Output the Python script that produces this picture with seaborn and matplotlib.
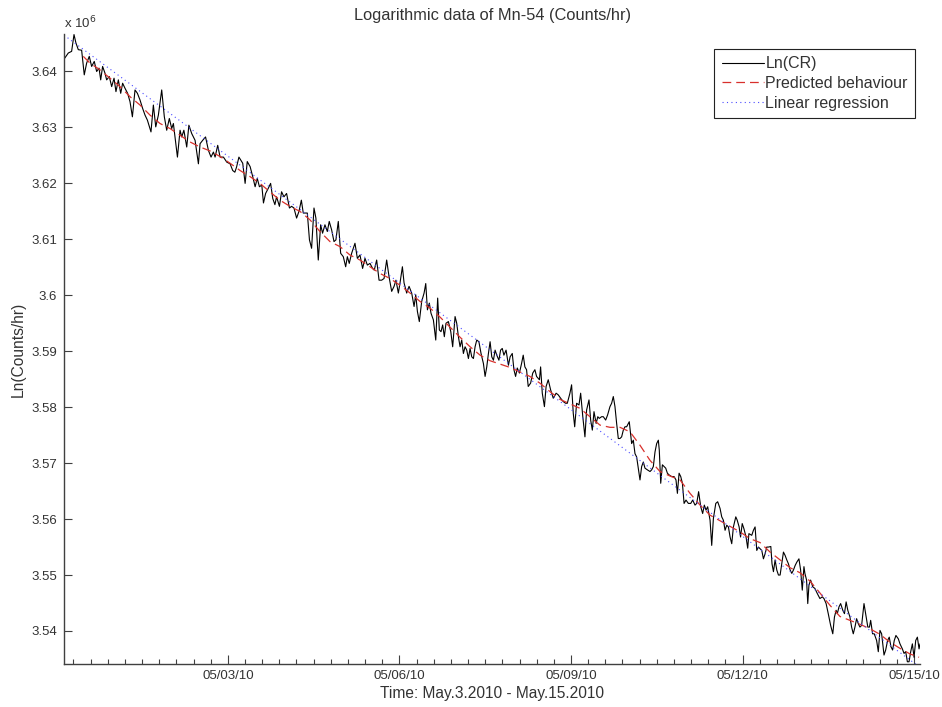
import numpy as np
import pandas as pd
import matplotlib
matplotlib.use("Agg")
import matplotlib.pyplot as plt
import matplotlib.dates as mdates
from matplotlib.ticker import FixedLocator, FuncFormatter
import seaborn as sns
from datetime import datetime, timedelta

# ---------------- data (values in units of 10^6 counts/hr, time in hours from start) -------------
START = datetime(2010, 4, 30, 3, 15)

cr_hours_1 = [0, 1.8, 3.2, 4.2, 5.0, 6.0, 7.4, 8.5, 9.5, 10.6, 11.6, 12.7, 13.7, 14.7, 15.4, 16.2, 17.2, 17.9,
              19.0, 20.0, 21.0, 21.8, 22.8, 23.8, 24.6, 25.6, 26.7, 27.7, 28.7, 29.8, 30.8, 31.9, 33.0, 34.0,
              35.0, 36.5, 37.5, 38.5, 39.6, 41.0, 42.1, 43.1, 44.2, 45.2, 45.9, 47.6, 48.7, 49.4, 50.3, 51.5,
              52.4, 53.6, 55.0, 56.4, 57.1, 58.2, 59.4, 60.6, 61.7, 62.7, 63.4, 64.5, 65.5, 66.9, 68.3, 69.7,
              70.8, 71.7, 72.4, 73.4]
cr_vals_1 = [3.6422, 3.6433, 3.6436, 3.6466, 3.6451, 3.6439, 3.6438, 3.6394, 3.6415, 3.6427, 3.6409, 3.6418,
             3.6400, 3.6406, 3.6385, 3.6409, 3.6397, 3.6385, 3.6391, 3.6373, 3.6388, 3.6364, 3.6385, 3.6361,
             3.6379, 3.6370, 3.6361, 3.6346, 3.6319, 3.6367, 3.6361, 3.6349, 3.6334, 3.6322, 3.6313, 3.6292,
             3.6340, 3.6301, 3.6322, 3.6367, 3.6319, 3.6295, 3.6316, 3.6298, 3.6307, 3.6247, 3.6295, 3.6283,
             3.6295, 3.6265, 3.6304, 3.6289, 3.6277, 3.6235, 3.6271, 3.6277, 3.6283, 3.6259, 3.6247, 3.6256,
             3.6247, 3.6268, 3.6247, 3.6247, 3.6238, 3.6235, 3.6223, 3.6220, 3.6229, 3.6247]

cr_hours_2 = [75.0, 76.0, 76.9, 78.1, 79.2, 80.2, 81.1, 82.0, 83.0, 83.7, 84.6, 85.7, 86.7, 87.6, 88.5, 89.2,
              90.4, 91.3, 92.3, 93.4, 94.6, 95.5, 96.5, 97.6, 98.6, 99.6, 100.4, 102.1, 103.0, 103.9, 104.9,
              105.7, 106.7, 107.7, 108.5, 109.5, 110.5, 111.3, 112.3, 113.3, 114.1, 115.1, 116.1, 117.2, 118.2,
              118.9, 119.7, 120.7, 122.1, 123.1, 124.2, 125.3, 126.3, 127.3, 128.4, 129.5, 130.2, 131.2, 132.2,
              133.3, 134.3, 135.4, 136.4, 137.5, 138.5, 139.3, 140.3, 141.0, 142.0, 142.7, 143.8, 144.8]
cr_vals_2 = [3.6236, 3.6200, 3.6239, 3.6230, 3.6212, 3.6194, 3.6209, 3.6194, 3.6197, 3.6165, 3.6182, 3.6191,
             3.6200, 3.6173, 3.6162, 3.6176, 3.6159, 3.6185, 3.6176, 3.6182, 3.6156, 3.6159, 3.6156, 3.6138,
             3.6150, 3.6170, 3.6147, 3.6147, 3.6099, 3.6084, 3.6156, 3.6138, 3.6063, 3.6126, 3.6111, 3.6126,
             3.6114, 3.6132, 3.6117, 3.6096, 3.6099, 3.6132, 3.6075, 3.6069, 3.6051, 3.6069, 3.6057, 3.6075,
             3.6093, 3.6066, 3.6072, 3.6048, 3.6066, 3.6054, 3.6057, 3.6048, 3.6045, 3.6063, 3.6027, 3.6027,
             3.6030, 3.6063, 3.6033, 3.6007, 3.6016, 3.6027, 3.6004, 3.6022, 3.6051, 3.6022, 3.6004, 3.6016]

cr_hours_3 = [145.9, 146.9, 147.6, 148.3, 149.1, 150.1, 151.1, 151.8, 152.5, 153.3, 154.0, 155.0, 156.0, 156.8,
              157.5, 158.2, 158.9, 159.6, 160.3, 161.3, 162.3, 163.1, 164.1, 164.8, 165.5, 166.2, 166.9, 167.6,
              168.3, 169.0, 169.7, 170.4, 171.1, 171.8, 172.5, 173.2, 174.1, 175.0, 176.0, 176.7, 177.4, 178.1,
              178.8, 179.5, 180.2, 180.9, 181.6, 182.5, 183.2, 183.9, 184.6, 185.5, 186.5, 187.2, 188.1, 188.8,
              189.5, 190.2, 191.1, 192.0, 192.7, 193.4, 194.1, 194.8, 195.8, 196.7, 197.6, 198.3, 199.5, 200.0,
              200.7, 201.6, 202.3, 203.2, 204.2, 205.3, 206.5, 207.4, 208.4, 209.5, 210.5, 211.2, 212.3, 213.0,
              213.7, 214.3, 215.1, 216.1]
cr_vals_3 = [3.6004, 3.5980, 3.6001, 3.5971, 3.5953, 3.5989, 3.6004, 3.6021, 3.5974, 3.5986, 3.5968, 3.5956,
             3.5920, 3.5995, 3.5938, 3.5935, 3.5947, 3.5926, 3.5950, 3.5953, 3.5935, 3.5908, 3.5962, 3.5950,
             3.5926, 3.5908, 3.5920, 3.5896, 3.5908, 3.5902, 3.5887, 3.5905, 3.5890, 3.5887, 3.5908, 3.5920,
             3.5917, 3.5896, 3.5878, 3.5855, 3.5872, 3.5896, 3.5917, 3.5890, 3.5884, 3.5902, 3.5893, 3.5884,
             3.5902, 3.5905, 3.5893, 3.5902, 3.5875, 3.5890, 3.5896, 3.5867, 3.5855, 3.5870, 3.5861, 3.5878,
             3.5893, 3.5872, 3.5867, 3.5837, 3.5843, 3.5861, 3.5867, 3.5855, 3.5849, 3.5872, 3.5825, 3.5801,
             3.5837, 3.5849, 3.5831, 3.5816, 3.5825, 3.5822, 3.5816, 3.5810, 3.5807, 3.5807, 3.5825, 3.5840,
             3.5789, 3.5765, 3.5807, 3.5804]

cr_hours_4 = [216.8, 217.7, 218.6, 219.3, 220.3, 221.0, 221.7, 222.4, 223.3, 224.0, 224.6, 225.6, 226.3, 227.3,
              228.1, 229.1, 229.8, 230.5, 231.2, 231.9, 232.6, 233.3, 234.0, 234.7, 235.4, 236.1, 237.2, 238.2,
              238.9, 239.6, 240.3, 241.0, 241.7, 242.4, 243.1, 243.8, 244.8, 245.9, 246.6, 247.3, 248.0, 248.7,
              249.4, 249.8, 250.4, 251.1, 251.8, 252.5, 253.2, 253.9, 255.0, 256.0, 256.8, 257.4, 258.1, 258.8,
              259.5, 260.2, 261.0, 262.0, 263.0, 263.8, 264.8, 265.5, 266.3, 267.2, 268.0, 268.7, 269.4, 270.1,
              271.1, 271.8, 272.5, 273.5, 274.3, 275.3, 276.0, 276.7, 277.4, 278.1, 278.8, 279.5, 280.2, 280.9,
              281.9, 282.5, 283.3, 283.9, 284.6, 285.3, 286.2, 286.9, 287.4]
cr_vals_4 = [3.5825, 3.5783, 3.5747, 3.5795, 3.5813, 3.5777, 3.5759, 3.5792, 3.5771, 3.5783, 3.5780, 3.5783,
             3.5783, 3.5777, 3.5786, 3.5801, 3.5807, 3.5819, 3.5801, 3.5771, 3.5744, 3.5744, 3.5747, 3.5759,
             3.5765, 3.5765, 3.5774, 3.5735, 3.5741, 3.5717, 3.5711, 3.5691, 3.5670, 3.5694, 3.5702, 3.5691,
             3.5688, 3.5685, 3.5688, 3.5694, 3.5720, 3.5735, 3.5741, 3.5723, 3.5664, 3.5697, 3.5694, 3.5691,
             3.5682, 3.5679, 3.5676, 3.5676, 3.5670, 3.5646, 3.5682, 3.5676, 3.5664, 3.5628, 3.5634, 3.5628,
             3.5628, 3.5634, 3.5625, 3.5628, 3.5649, 3.5622, 3.5610, 3.5625, 3.5616, 3.5622, 3.5598, 3.5553,
             3.5601, 3.5628, 3.5631, 3.5619, 3.5604, 3.5598, 3.5580, 3.5589, 3.5586, 3.5568, 3.5556, 3.5586,
             3.5604, 3.5598, 3.5586, 3.5568, 3.5592, 3.5583, 3.5568, 3.5548, 3.5574]

cr_hours_5 = [288.6, 289.3, 290.0, 290.7, 291.4, 292.1, 292.8, 293.5, 294.2, 294.9, 295.6, 296.6, 297.1, 297.7,
              298.4, 299.1, 299.8, 300.5, 301.2, 301.9, 302.6, 303.3, 304.0, 304.7, 305.4, 306.1, 306.8, 307.5,
              308.4, 309.1, 309.8, 310.5, 310.9, 311.6, 312.1, 312.6, 313.3, 314.2, 315.1, 316.1, 317.2, 318.2,
              318.9, 319.8, 320.7, 321.7, 322.6, 323.3, 324.0, 324.5, 325.2, 325.9, 326.8, 327.5, 328.2, 328.9,
              329.8, 330.5, 331.2, 331.9, 332.6, 333.3, 334.0, 334.7, 335.7, 336.6, 337.3, 338.0, 338.5, 339.3,
              340.0, 341.0, 341.7, 342.4, 343.1, 344.1, 344.8, 345.6, 346.3, 347.0, 347.7, 348.4, 349.1, 350.1,
              350.8, 351.8, 352.5, 353.2, 353.9, 354.6, 355.3, 356.0, 356.7, 357.4, 358.1, 358.8, 359.2]
cr_vals_5 = [3.5571, 3.5580, 3.5586, 3.5544, 3.5550, 3.5547, 3.5544, 3.5529, 3.5538, 3.5550, 3.5550, 3.5551,
             3.5520, 3.5506, 3.5527, 3.5509, 3.5500, 3.5500, 3.5520, 3.5541, 3.5535, 3.5527, 3.5520, 3.5509,
             3.5503, 3.5509, 3.5517, 3.5523, 3.5529, 3.5509, 3.5473, 3.5515, 3.5503, 3.5491, 3.5449, 3.5482,
             3.5491, 3.5479, 3.5476, 3.5467, 3.5458, 3.5461, 3.5458, 3.5449, 3.5431, 3.5410, 3.5395, 3.5425,
             3.5437, 3.5431, 3.5443, 3.5449, 3.5437, 3.5431, 3.5452, 3.5437, 3.5425, 3.5407, 3.5395, 3.5407,
             3.5422, 3.5413, 3.5407, 3.5410, 3.5449, 3.5425, 3.5407, 3.5407, 3.5419, 3.5395, 3.5395, 3.5383,
             3.5363, 3.5401, 3.5395, 3.5357, 3.5366, 3.5383, 3.5389, 3.5372, 3.5366, 3.5383, 3.5392, 3.5386,
             3.5377, 3.5368, 3.5360, 3.5363, 3.5345, 3.5345, 3.5363, 3.5377, 3.5353, 3.5383, 3.5389, 3.5368,
             3.5377]

pred_hours = [8.1, 10.9, 15.1, 19.3, 23.5, 27.7, 31.9, 36.1, 40.3, 44.5, 48.7, 52.9, 57.1, 61.3, 65.5, 69.7,
              73.9, 78.1, 82.2, 86.4, 90.6, 94.8, 99.0, 103.2, 107.4, 111.6, 115.8, 120.0, 124.2, 128.4, 132.6,
              136.8, 141.0, 145.2, 149.4, 153.6, 157.8, 162.0, 166.2, 170.4, 174.6, 178.8, 183.0, 187.2, 191.3,
              195.5, 199.7, 203.9, 208.1, 212.3, 216.5, 220.7, 224.9, 229.1, 233.3, 237.5, 241.7, 245.9, 250.1,
              254.3, 258.5, 262.7, 266.9, 271.1, 275.3, 279.5, 283.7, 287.9, 292.1, 296.3, 300.5, 304.7, 308.9,
              313.1, 317.2, 321.4, 325.6, 329.8, 334.0, 338.2, 342.4, 346.6, 350.8, 355.0, 358.8]
pred_vals = [3.6427, 3.6415, 3.6403, 3.6388, 3.6373, 3.6355, 3.6340, 3.6322, 3.6307, 3.6298, 3.6286, 3.6274,
             3.6265, 3.6258, 3.6248, 3.6236, 3.6223, 3.6212, 3.6200, 3.6185, 3.6170, 3.6159, 3.6150, 3.6135,
             3.6114, 3.6096, 3.6087, 3.6072, 3.6063, 3.6051, 3.6039, 3.6030, 3.6018, 3.6004, 3.5989, 3.5977,
             3.5961, 3.5943, 3.5925, 3.5908, 3.5893, 3.5883, 3.5877, 3.5871, 3.5863, 3.5855, 3.5843, 3.5828,
             3.5814, 3.5806, 3.5798, 3.5783, 3.5768, 3.5764, 3.5764, 3.5756, 3.5732, 3.5705, 3.5685, 3.5677,
             3.5670, 3.5646, 3.5625, 3.5607, 3.5597, 3.5587, 3.5577, 3.5565, 3.5558, 3.5541, 3.5527, 3.5513,
             3.5504, 3.5489, 3.5468, 3.5446, 3.5426, 3.5419, 3.5412, 3.5404, 3.5394, 3.5380, 3.5369, 3.5359,
             3.5353]

linreg_hours = [0.0, 359.2]
linreg_vals = [3.6465, 3.5335]

major_tick_dates = [datetime(2010, 5, 3), datetime(2010, 5, 6), datetime(2010, 5, 9),
                    datetime(2010, 5, 12), datetime(2010, 5, 15)]
y_ticks = [3.54, 3.55, 3.56, 3.57, 3.58, 3.59, 3.60, 3.61, 3.62, 3.63, 3.64]

# ---------------- assemble ----------------
cr_hours = cr_hours_1 + cr_hours_2 + cr_hours_3 + cr_hours_4 + cr_hours_5
cr_vals = cr_vals_1 + cr_vals_2 + cr_vals_3 + cr_vals_4 + cr_vals_5
assert len(cr_hours) == len(cr_vals)
assert len(pred_hours) == len(pred_vals)

start_num = mdates.date2num(START)


def to_num(hours):
    return start_num + np.asarray(hours, dtype=float) / 24.0


df_cr = pd.DataFrame({"time": to_num(cr_hours), "value": cr_vals})
df_pred = pd.DataFrame({"time": to_num(pred_hours), "value": pred_vals})
df_lin = pd.DataFrame({"time": to_num(linreg_hours), "value": linreg_vals})

# ---------------- style ----------------
sns.set_style("white")
plt.rcParams['font.family'] = ['Liberation Sans', 'DejaVu Sans']
TXT = '#333333'
AX = '#404040'
FS = 9.5      # tick labels
FL = 11.2     # axis labels
FG = 11.5     # legend
FT = 11.8     # title

fig = plt.figure(figsize=(9.42, 7.07), dpi=100)
ax = fig.add_axes([64 / 942, 43 / 707, 856 / 942, 630 / 707])

sns.lineplot(data=df_cr, x="time", y="value", ax=ax, color="black", linewidth=0.8,
             sort=False, estimator=None, label="Ln(CR)")
sns.lineplot(data=df_pred, x="time", y="value", ax=ax, color="#d8302c", linewidth=0.9,
             linestyle=(0, (7, 4)), sort=False, estimator=None, label="Predicted behaviour")
sns.lineplot(data=df_lin, x="time", y="value", ax=ax, color="#4a4aff", linewidth=0.8,
             linestyle=(0, (1, 3)), sort=False, estimator=None, label="Linear regression")

ax.set_xlim(to_num([0.0])[0], to_num([359.2])[0])
ax.set_ylim(3.5341, 3.6467)

# x ticks
major_nums = mdates.date2num(major_tick_dates)
minor_nums = np.arange(major_nums[0] - 30 * 0.3, major_nums[-1] + 0.31, 0.3)
ax.xaxis.set_major_locator(FixedLocator(major_nums))
ax.xaxis.set_minor_locator(FixedLocator(minor_nums))
ax.xaxis.set_major_formatter(FuncFormatter(lambda v, p: mdates.num2date(v).strftime('%m/%d/%y')))
ax.yaxis.set_major_locator(FixedLocator(y_ticks))
ax.yaxis.set_major_formatter(FuncFormatter(lambda v, p: '%g' % round(v, 2)))

ax.tick_params(axis='x', which='major', direction='in', length=6.5, width=0.8, color=AX,
               labelsize=FS, labelcolor=TXT, pad=4, bottom=True)
ax.tick_params(axis='x', which='minor', direction='in', length=3.6, width=0.8, color=AX, bottom=True)
ax.tick_params(axis='y', which='major', direction='in', length=5.4, width=0.8, color=AX,
               labelsize=FS, labelcolor=TXT, pad=5, left=True)

sns.despine(ax=ax, top=True, right=True)
for s in ['left', 'bottom']:
    ax.spines[s].set_color(AX)
    ax.spines[s].set_linewidth(1.0)

ax.set_xlabel("Time: May.3.2010 - May.15.2010", fontsize=FL, color=TXT, labelpad=3)
ax.set_ylabel("Ln(Counts/hr)", fontsize=FL, color=TXT, labelpad=4)
ax.set_title("Logarithmic data of Mn-54 (Counts/hr)", fontsize=FT, color=TXT, pad=10)
ax.text(0.0, 1.004, r"x 10$^{6}$", transform=ax.transAxes, ha="left", va="bottom",
        fontsize=FS, color=TXT)

leg = ax.legend(loc="upper right", bbox_to_anchor=(851 / 856, 615 / 630), borderaxespad=0,
                fontsize=FG, frameon=True, fancybox=False, framealpha=1, edgecolor='#222222',
                handlelength=2.65, handletextpad=0.1, borderpad=0.45, labelspacing=0.3)
leg.get_frame().set_linewidth(0.8)
for t in leg.get_texts():
    t.set_color(TXT)

fig.savefig("out.png", dpi=100, facecolor="white")
